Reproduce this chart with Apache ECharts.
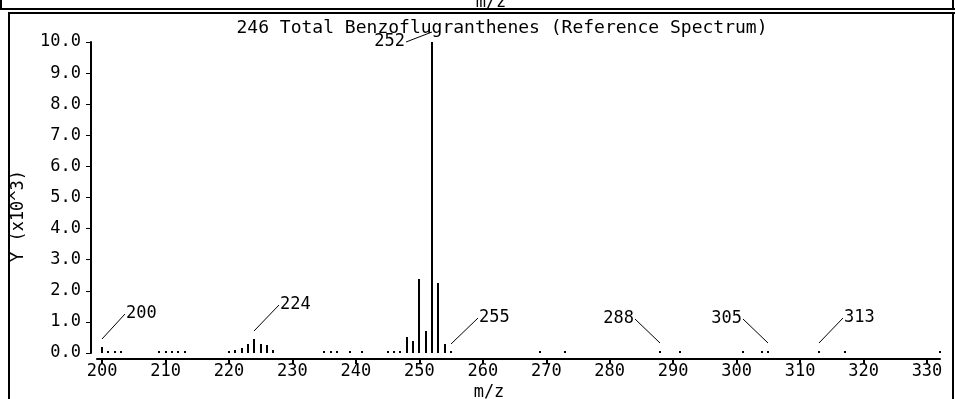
<!DOCTYPE html>
<html><head><meta charset="utf-8">
<style>html,body{margin:0;padding:0;background:#fff;overflow:hidden}#c{width:955px;height:399px}</style>
<script src="https://cdn.jsdelivr.net/npm/echarts@6/dist/echarts.min.js"></script>
</head><body><div id="c"></div>
<script>
// ---- data ----
const mz = [200,201,202,203,209,210,211,212,213,220,221,222,223,224,225,226,227,235,236,237,239,241,245,246,247,248,249,250,251,252,253,254,255,269,273,288,291,301,304,305,313,317,332];
const intensity = [0.18,0.07,0.06,0.06,0.06,0.06,0.08,0.06,0.08,0.06,0.09,0.15,0.3,0.46,0.29,0.27,0.1,0.06,0.06,0.06,0.06,0.06,0.06,0.07,0.08,0.52,0.4,2.38,0.72,10.0,2.26,0.3,0.06,0.06,0.06,0.06,0.06,0.06,0.06,0.06,0.06,0.06,0.06];
const labeledMz = [200,224,252,255,288,305,313];
const xTicks = [200,210,220,230,240,250,260,270,280,290,300,310,320,330];
const yTicks = [0,1,2,3,4,5,6,7,8,9,10];
const titleText = '246 Total Benzoflugranthenes (Reference Spectrum)';
const xName = 'm/z';
const yName = 'Y (x10^3)';

// ---- style: leader offsets per label [gapAbove, dx, dy, align] ----
const leaderStyle = {
  200: [8, 23, -25, 'left'],
  224: [8, 25, -26, 'left'],
  252: [10, -26, 10, 'right'],
  255: [7, 27, -26, 'left'],
  288: [8, -25, -24, 'right'],
  305: [8, -25, -24, 'right'],
  313: [8, 24, -25, 'left']
};
const FONT = 'DejaVu Sans Mono';

const peaks = mz.map((m, i) => [m, intensity[i]]);
const labelData = labeledMz.map(m => [m, intensity[mz.indexOf(m)]]);

const chart = echarts.init(document.getElementById('c'), null, {renderer: 'canvas'});
chart.setOption({
  animation: false,
  backgroundColor: '#fff',
  title: [
    {text: titleText, left: 497, top: 14, textAlign: 'center',
     textStyle: {fontFamily: FONT, fontSize: 18, fontWeight: 'normal', color: '#000'}},
    {text: xName, left: 484, top: 379, textAlign: 'center',
     textStyle: {fontFamily: FONT, fontSize: 17, fontWeight: 'normal', color: '#000'}},
    {text: xName, left: 486, top: -11, textAlign: 'center',
     textStyle: {fontFamily: FONT, fontSize: 17, fontWeight: 'normal', color: '#000'}}
  ],
  graphic: [
    {type: 'line', shape: {x1: 0, y1: 9, x2: 955, y2: 9}, style: {stroke: '#000', lineWidth: 2}},
    {type: 'line', shape: {x1: 1, y1: 0, x2: 1, y2: 9}, style: {stroke: '#000', lineWidth: 2}},
    {type: 'line', shape: {x1: 953, y1: 0, x2: 953, y2: 9}, style: {stroke: '#000', lineWidth: 2}},
    {type: 'line', shape: {x1: 9, y1: 13, x2: 955, y2: 13}, style: {stroke: '#000', lineWidth: 2}},
    {type: 'line', shape: {x1: 9, y1: 12, x2: 9, y2: 399}, style: {stroke: '#000', lineWidth: 2}},
    {type: 'line', shape: {x1: 953, y1: 12, x2: 953, y2: 399}, style: {stroke: '#000', lineWidth: 2}},
    {type: 'text', x: 19, y: 216, rotation: Math.PI / 2,
     style: {text: yName, font: '17px "DejaVu Sans Mono"', fill: '#000', align: 'center', verticalAlign: 'middle'}}
  ],
  grid: {left: 97, right: 15, top: 42, bottom: 46},
  xAxis: {
    type: 'value', min: 199.2, max: 332.05, offset: 6,
    axisLine: {onZero: false, lineStyle: {color: '#000', width: 2}},
    axisTick: {customValues: xTicks, length: 5, lineStyle: {color: '#000', width: 2}},
    axisLabel: {customValues: xTicks, color: '#000', fontFamily: FONT, fontSize: 17, margin: 4},
    splitLine: {show: false}
  },
  yAxis: {
    type: 'value', min: 0, max: 10, offset: 6,
    axisLine: {show: true, onZero: false, lineStyle: {color: '#000', width: 2}},
    axisTick: {show: true, customValues: yTicks, length: 5, lineStyle: {color: '#000', width: 1}},
    axisLabel: {customValues: yTicks, color: '#000', fontFamily: FONT, fontSize: 17, margin: 10,
      formatter: v => v.toFixed(1)},
    splitLine: {show: false}
  },
  series: [
    {
      type: 'custom', data: peaks, clip: false,
      renderItem: (params, api) => {
        const p0 = api.coord([api.value(0), 0]);
        const p1 = api.coord([api.value(0), api.value(1)]);
        const x = Math.round(p0[0]) - 1;
        const yb = Math.round(p0[1]);
        const yt = Math.round(p1[1]);
        return {type: 'rect', shape: {x: x, y: yt, width: 2, height: Math.max(yb - yt, 1)},
                style: {fill: '#000'}};
      }
    },
    {
      type: 'custom', data: labelData, clip: false,
      renderItem: (params, api) => {
        const m = api.value(0);
        const p = api.coord([m, api.value(1)]);
        const s = leaderStyle[m];
        const x0 = Math.round(p[0]), y0 = Math.round(p[1]) - s[0];
        const x1 = x0 + s[1], y1 = y0 + s[2];
        return {type: 'group', children: [
          {type: 'line', shape: {x1: x0, y1: y0, x2: x1, y2: y1}, style: {stroke: '#000', lineWidth: 1}},
          {type: 'text', x: s[3] === 'left' ? x1 + 1 : x1 - 1, y: y1,
           style: {text: String(m), font: '17px "DejaVu Sans Mono"', fill: '#000',
                   align: s[3], verticalAlign: 'middle'}}
        ]};
      }
    }
  ]
});
</script>
</body></html>
